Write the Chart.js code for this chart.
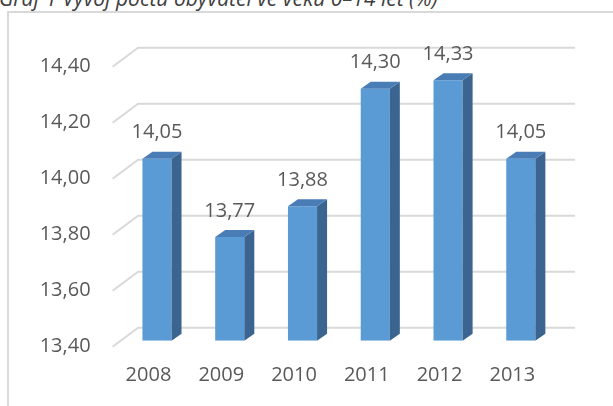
<!DOCTYPE html>
<html>
<head>
<meta charset="utf-8">
<title>Graf 1</title>
<script src="https://cdn.jsdelivr.net/npm/chart.js"></script>
<style>
  html, body { margin: 0; padding: 0; background: #fff; }
  #page { position: relative; width: 613px; height: 406px; overflow: hidden; }
  #title {
    position: absolute; left: -1px; top: -13px; white-space: nowrap;
    font-family: "Open Sans", sans-serif; font-style: italic;
    font-size: 21px; line-height: 23px; color: #404040;
  }
  #frame {
    position: absolute; left: 7px; top: 11px; width: 700px; height: 500px;
    border: 2px solid #d9d9d9;
  }
  #chart { position: absolute; left: 0; top: 0; }
</style>
</head>
<body>
<div id="page">
  <div id="title">Graf 1  Vývoj počtu obyvatel ve věku 0–14 let (%)</div>
  <div id="frame"></div>
  <canvas id="chart" width="613" height="406"></canvas>
</div>
<script>
var years = ['2008', '2009', '2010', '2011', '2012', '2013'];
var shares = [14.05, 13.77, 13.88, 14.30, 14.33, 14.05];
var yMin = 13.4, yMax = 14.4, yStep = 0.2;

var textColor = '#595959';
var fontFamily = '"Open Sans", sans-serif';

function fmt(v) { return v.toFixed(2).replace('.', ','); }

// 3d look: back wall gridlines, side/top faces of the columns, value labels
var depthX = 10, depthY = 7;
var threeD = {
  id: 'threeD',
  beforeDatasetsDraw: function (chart) {
    var ctx = chart.ctx, area = chart.chartArea, y = chart.scales.y;
    ctx.save();
    ctx.strokeStyle = '#d9d9d9';
    ctx.lineWidth = 2;
    y.ticks.forEach(function (t) {
      var p = y.getPixelForValue(t.value);
      ctx.beginPath();
      ctx.moveTo(area.left - 8, p + 6);
      ctx.lineTo(area.left + 17.5, p - 13);
      ctx.lineTo(area.right + 18, p - 13);
      ctx.stroke();
    });
    ctx.restore();
  },
  afterDatasetsDraw: function (chart) {
    var ctx = chart.ctx;
    var meta = chart.getDatasetMeta(0);
    ctx.save();
    meta.data.forEach(function (bar, i) {
      var l = bar.x - bar.width / 2, r = bar.x + bar.width / 2;
      var top = bar.y, base = Math.min(bar.base, chart.chartArea.bottom);
      // side
      ctx.fillStyle = '#3b6590';
      ctx.beginPath();
      ctx.moveTo(r, top);
      ctx.lineTo(r + depthX, top - depthY);
      ctx.lineTo(r + depthX, base - depthY);
      ctx.lineTo(r, base);
      ctx.closePath();
      ctx.fill();
      // top
      ctx.fillStyle = '#4a7db5';
      ctx.beginPath();
      ctx.moveTo(l, top);
      ctx.lineTo(r, top);
      ctx.lineTo(r + depthX, top - depthY);
      ctx.lineTo(l + depthX, top - depthY);
      ctx.closePath();
      ctx.fill();
      // value label
      ctx.fillStyle = textColor;
      ctx.font = '20px ' + fontFamily;
      ctx.textAlign = 'center';
      ctx.textBaseline = 'middle';
      ctx.fillText(fmt(shares[i]), bar.x, top - 26);
    });
    ctx.restore();
  }
};

new Chart(document.getElementById('chart'), {
  type: 'bar',
  data: {
    labels: years,
    datasets: [{
      data: shares,
      base: yMin,
      backgroundColor: '#5b9bd5',
      borderWidth: 0,
      barPercentage: 0.4,
      categoryPercentage: 1
    }]
  },
  options: {
    responsive: false,
    animation: false,
    layout: { padding: { left: 0, top: 60.7, right: 55.8, bottom: 0 } },
    plugins: { legend: { display: false }, tooltip: { enabled: false } },
    scales: {
      x: {
        grid: { display: false, drawTicks: false },
        border: { display: false },
        ticks: {
          color: textColor, font: { family: fontFamily, size: 20 },
          padding: 23, labelOffset: -8.5, maxRotation: 0
        },
        afterFit: function (s) { s.height = 65.3; }
      },
      y: {
        min: yMin, max: yMax,
        grid: { display: false, drawTicks: false },
        border: { display: false },
        ticks: {
          stepSize: yStep, color: textColor, font: { family: fontFamily, size: 20 },
          padding: 30, labelOffset: 6,
          callback: function (v) { return fmt(v); }
        },
        afterFit: function (s) { s.width = 120.6; }
      }
    }
  },
  plugins: [threeD]
});
</script>
</body>
</html>
